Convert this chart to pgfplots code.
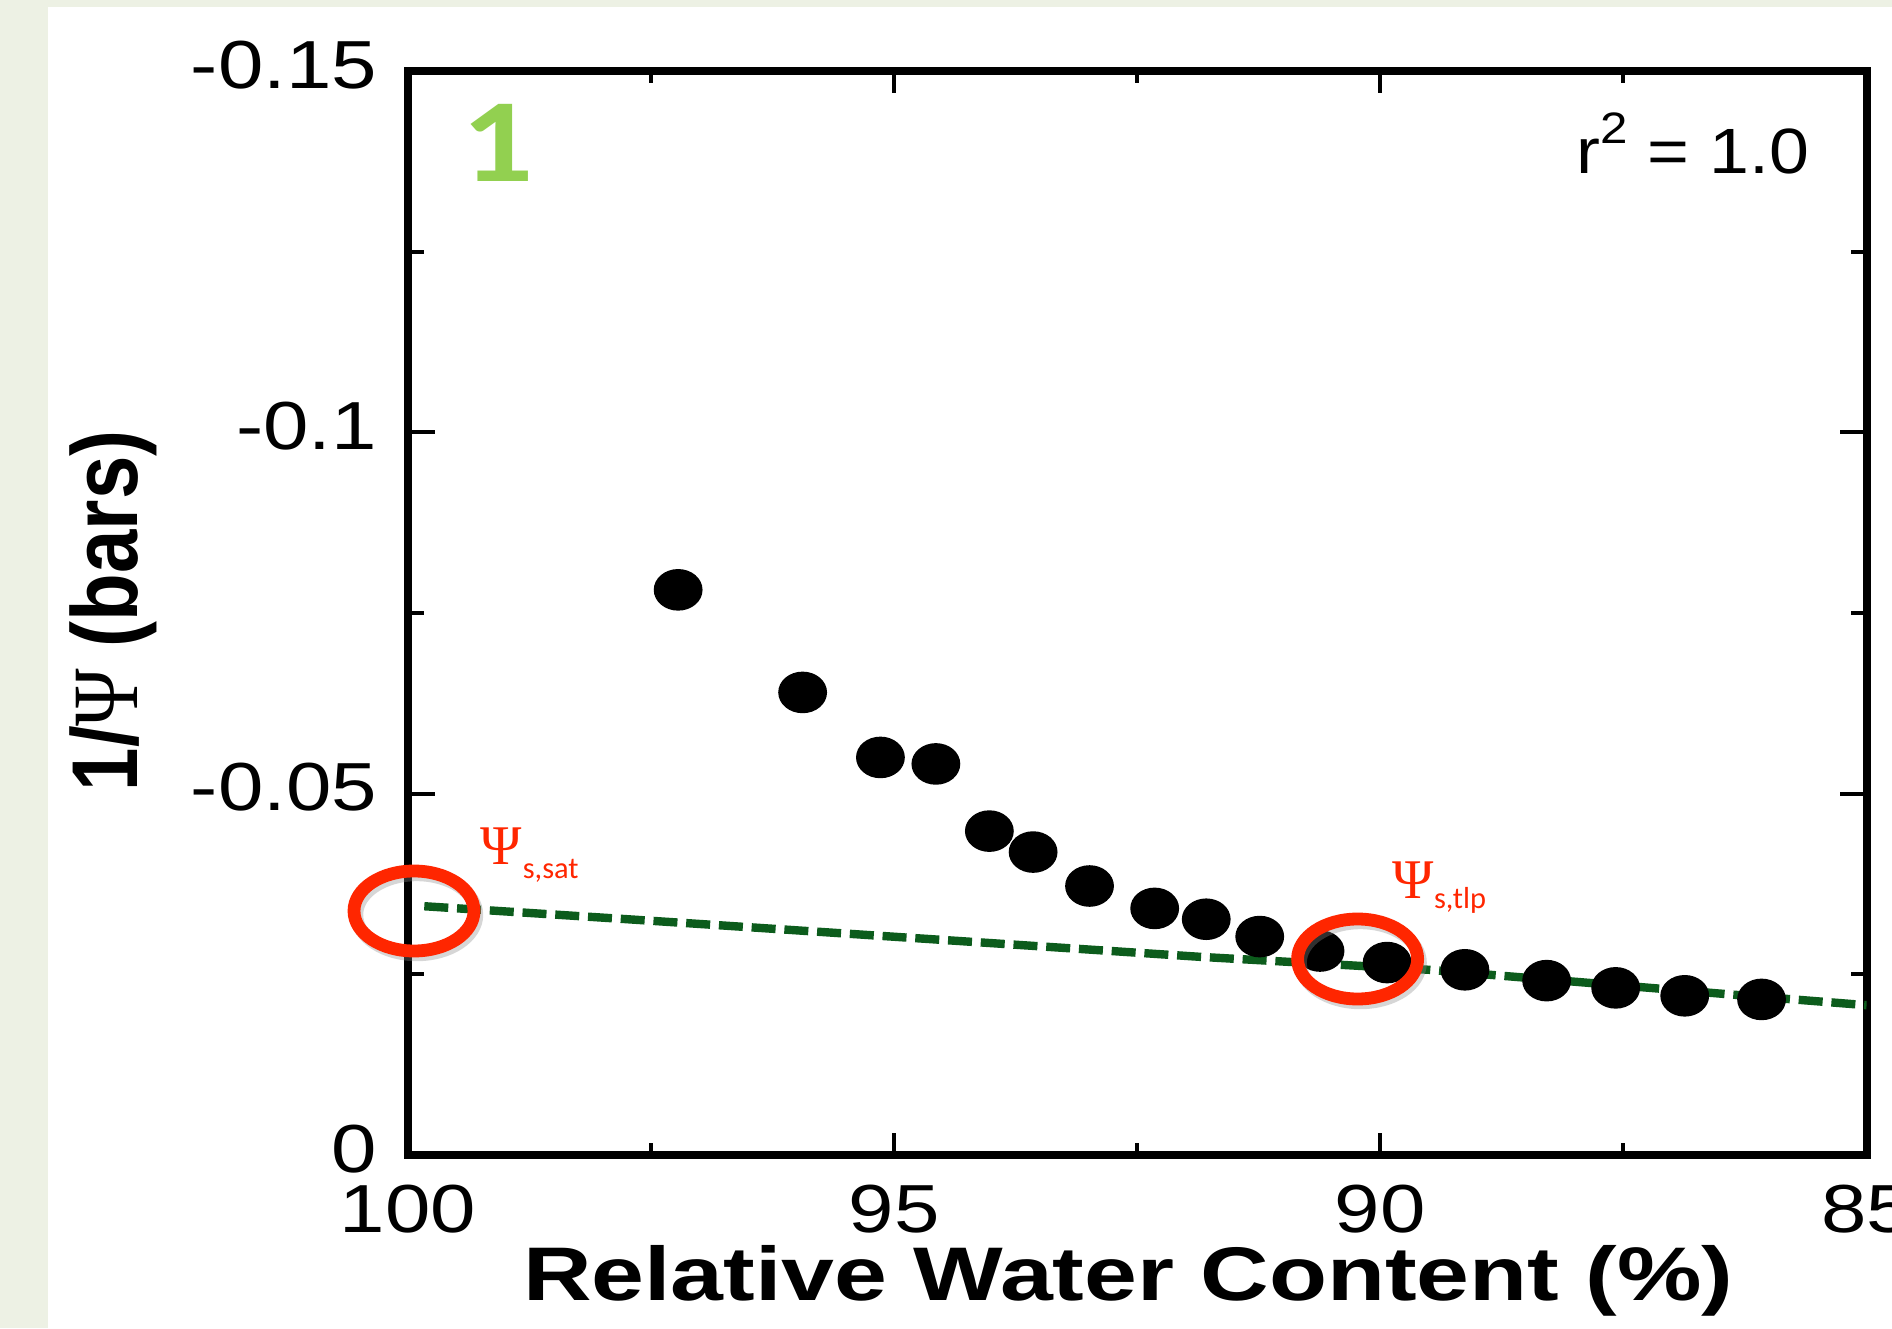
\documentclass[border=0pt]{standalone}
\usepackage{fontspec}
\setmainfont{Liberation Sans}
\newfontfamily\carlito{Carlito}
\newfontfamily\lserif{Liberation Serif}
\usepackage{graphicx}
\usepackage{pgfplots}
\pgfplotsset{compat=1.18}
\definecolor{bggreen}{RGB}{237,241,228}
\definecolor{fitgreen}{RGB}{12,92,28}
\definecolor{annred}{RGB}{255,38,0}
\definecolor{numgreen}{RGB}{146,208,80}
\newcommand\sx[1]{\scalebox{1.2}[1]{#1}}
\begin{document}
\begin{tikzpicture}
\fill[bggreen] (0,0) rectangle (473pt,332pt);
\fill[white] (12pt,0) rectangle (473pt,330.25pt);
\begin{axis}[
  at={(101.95pt,43.325pt)}, anchor=south west,
  scale only axis, width=364.7pt, height=270.875pt,
  x dir=reverse, y dir=reverse,
  xmin=85, xmax=100, ymin=-0.15, ymax=0,
  axis line style={line width=2pt},
  tick align=inside, tick pos=both,
  xtick={100,95,90,85}, xticklabels={\sx{100},\sx{95},\sx{90},\sx{85}},
  minor xtick={97.5,92.5,87.5},
  ytick={-0.15,-0.1,-0.05,0}, yticklabels={\sx{-0.15},\sx{-0.1},\sx{-0.05},\sx{0}},
  minor ytick={-0.125,-0.075,-0.025},
  tick style={black, line width=1pt},
  xtick style={/pgfplots/major tick length=5.5pt,/pgfplots/minor tick length=3pt},
  ytick style={/pgfplots/major tick length=6.75pt,/pgfplots/minor tick length=4pt},
  ticklabel style={font=\fontsize{17}{17}\selectfont, inner sep=0pt},
  xticklabel style={anchor=north, yshift=-7.25pt},
  yticklabel style={anchor=east, xshift=-7.5pt, yshift=1.5pt},
  xlabel={\scalebox{1.25}[1]{\bfseries Relative Water Content (\%)}},
  xlabel style={at={(axis description cs:0.494,-0.135)}, anchor=base, inner sep=0pt, font=\fontsize{19}{19}\selectfont},
  ylabel={\scalebox{1}[1.2]{\bfseries 1/{\lserif\mdseries Ψ} (bars)}},
  ylabel style={at={(axis description cs:-0.1856,0.502)}, anchor=base, inner sep=0pt, font=\fontsize{19.5}{20}\selectfont},
]
\addplot[fitgreen, line width=2.1pt, dash pattern=on 6pt off 2.2pt] coordinates {
  (99.83,-0.0344) (97.74,-0.0326) (91.86,-0.0274) (89.50,-0.0256) (86.41,-0.0222) (85.0,-0.0207)
};
\addplot[only marks, mark=*, mark size=5pt, black, mark options={xscale=1.18, fill=black}] coordinates {
  (97.22,-0.0782) (95.94,-0.0640) (95.14,-0.0550) (94.57,-0.0541)
  (94.02,-0.0448) (93.57,-0.0419) (92.99,-0.0372) (92.32,-0.0341)
  (91.79,-0.0326) (91.24,-0.0302) (90.62,-0.0282) (89.93,-0.0266)
  (89.13,-0.0256) (88.29,-0.0241) (87.58,-0.0231) (86.87,-0.0220)
  (86.08,-0.0215)
};
\end{axis}
% annotations
\draw[black!45, opacity=0.35, line width=3.2pt] (104.2pt,103.3pt) ellipse [x radius=15pt, y radius=10pt];
\draw[annred, line width=3.2pt] (103.5pt,104.25pt) ellipse [x radius=15pt, y radius=10pt];
\draw[black!45, opacity=0.35, line width=3.2pt] (340.1pt,91.3pt) ellipse [x radius=15pt, y radius=10pt];
\draw[annred, line width=3.2pt] (339.4pt,92.25pt) ellipse [x radius=15pt, y radius=10pt];
\node[anchor=base, text=annred, inner sep=0pt, font=\lserif\fontsize{14}{14}\selectfont] at (125.25pt,116pt) {Ψ};
\node[anchor=base west, text=annred, inner sep=0pt, font=\carlito\fontsize{7.6}{8}\selectfont] at (130.5pt,112.5pt) {s,sat};
\node[anchor=base, text=annred, inner sep=0pt, font=\lserif\fontsize{14}{14}\selectfont] at (353.25pt,107.5pt) {Ψ};
\node[anchor=base west, text=annred, inner sep=0pt, font=\carlito\fontsize{7.6}{8}\selectfont] at (358.3pt,104.8pt) {s,tlp};
\node[anchor=base, inner sep=0pt, text=numgreen, font=\carlito\bfseries\fontsize{29.7}{30}\selectfont] at (124.5pt,286.5pt) {\sx{1}};
\node[anchor=base east, inner sep=0pt, font=\fontsize{16}{16}\selectfont] at (452.5pt,288.5pt) {\scalebox{1.12}[1]{r\raisebox{7.5pt}{\fontsize{11}{11}\selectfont 2} = 1.0}};
\pgfresetboundingbox
\useasboundingbox (0,0) rectangle (473pt,332pt);
\end{tikzpicture}
\end{document}
